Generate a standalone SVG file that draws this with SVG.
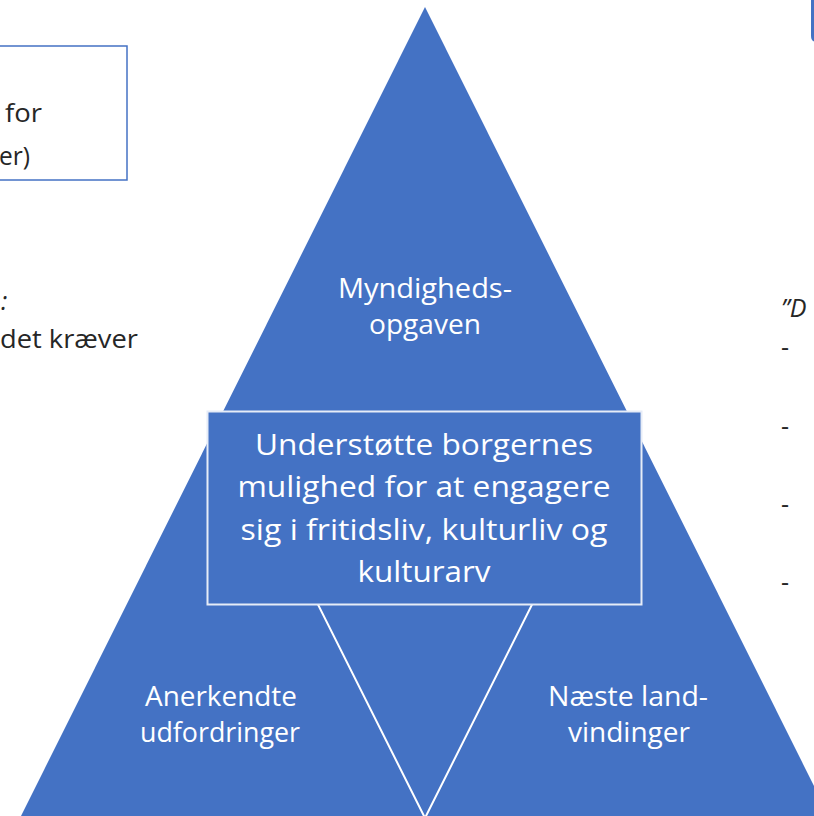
<svg xmlns="http://www.w3.org/2000/svg" width="814" height="816" viewBox="0 0 814 816">
  <style>
    .seg { fill: #4472C4; }
    .divider { stroke: #ffffff; stroke-width: 2; fill: none; }
    .lbl { font-family: "Open Sans", "Liberation Sans", sans-serif; fill: #ffffff; text-anchor: middle; }
    .side { font-size: 27px; }
    .core { font-size: 30px; }
    .note { font-family: "Open Sans", "Liberation Sans", sans-serif; fill: #262626; font-size: 25px; }
  </style>

  <rect width="814" height="816" fill="#ffffff"/>

  <!-- Edge of a neighbouring rounded shape, top right -->
  <path d="M 811 0 L 811 36 Q 811 42 817 42 L 830 42 L 830 0 Z" fill="#4472C4"/>

  <!-- Left text box (partly outside the frame) -->
  <g id="left-box">
    <rect x="-40" y="46" width="167" height="134" fill="none" stroke="#4472C4" stroke-width="1.5"/>
    <text class="note" x="42" y="122" text-anchor="end" textLength="37" lengthAdjust="spacingAndGlyphs">for</text>
    <text class="note" x="-1" y="165" textLength="31" lengthAdjust="spacingAndGlyphs">er)</text>
  </g>

  <g id="left-note">
    <text class="note" x="1" y="310" font-style="italic">:</text>
    <text class="note" x="0" y="348" textLength="138" lengthAdjust="spacingAndGlyphs">det kræver</text>
  </g>

  <!-- Right column (partly outside the frame) -->
  <g id="right-note">
    <text class="note" x="781" y="317" font-style="italic" font-size="30">”D</text>
    <text class="note" x="781" y="356">-</text>
    <text class="note" x="781" y="435">-</text>
    <text class="note" x="781" y="513">-</text>
    <text class="note" x="781" y="591">-</text>
  </g>

  <!-- Pyramid body -->
  <g id="pyramid">
    <polygon class="seg" points="425,7 830,818 20,818"/>
  </g>

  <!-- Section dividers inside the pyramid -->
  <g id="connectors">
    <polyline class="divider" points="222,413 425,818 628,413"/>
    <line class="divider" x1="222" y1="413" x2="628" y2="413"/>
  </g>

  <g id="top-section">
    <text class="lbl side" x="425" y="298" textLength="174" lengthAdjust="spacingAndGlyphs">Myndigheds-</text>
    <text class="lbl side" x="425" y="334" textLength="112" lengthAdjust="spacingAndGlyphs">opgaven</text>
  </g>

  <g id="left-section">
    <text class="lbl side" x="221" y="706" textLength="152" lengthAdjust="spacingAndGlyphs">Anerkendte</text>
    <text class="lbl side" x="220" y="742" textLength="160" lengthAdjust="spacingAndGlyphs">udfordringer</text>
  </g>

  <g id="right-section">
    <text class="lbl side" x="628" y="706" textLength="160" lengthAdjust="spacingAndGlyphs">Næste land-</text>
    <text class="lbl side" x="629" y="742" textLength="122" lengthAdjust="spacingAndGlyphs">vindinger</text>
  </g>

  <!-- Central goal box -->
  <g id="core">
    <rect x="207.5" y="411.5" width="434" height="193" fill="#4472C4" stroke="#e6ecf7" stroke-width="2"/>
    <text class="lbl core" x="424" y="455" textLength="338" lengthAdjust="spacingAndGlyphs">Understøtte borgernes</text>
    <text class="lbl core" x="424" y="497" textLength="373" lengthAdjust="spacingAndGlyphs">mulighed for at engagere</text>
    <text class="lbl core" x="424" y="540" textLength="367" lengthAdjust="spacingAndGlyphs">sig i fritidsliv, kulturliv og</text>
    <text class="lbl core" x="424" y="582" textLength="133" lengthAdjust="spacingAndGlyphs">kulturarv</text>
  </g>
</svg>
